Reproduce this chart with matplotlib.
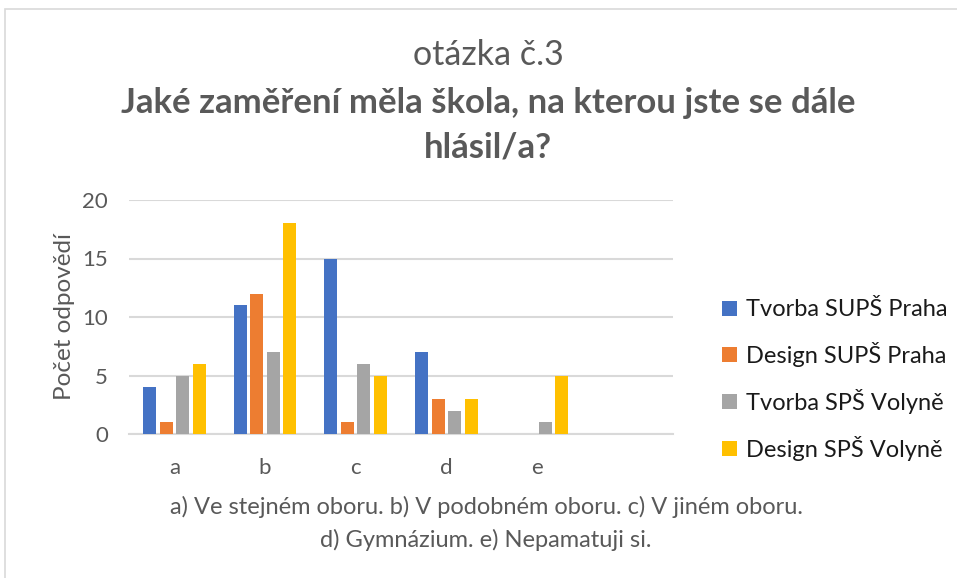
import matplotlib.pyplot as plt
import numpy as np
from matplotlib.patches import Rectangle

plt.rcParams['font.family'] = ['Lato', 'DejaVu Sans']

categories = ['a', 'b', 'c', 'd', 'e', '']
series_names = ['Tvorba SUPŠ Praha', 'Design SUPŠ Praha', 'Tvorba SPŠ Volyně', 'Design SPŠ Volyně']
tvorba_praha = [4, 11, 15, 7, 0, 0]
design_praha = [1, 12, 1, 3, 0, 0]
tvorba_volyne = [5, 7, 6, 2, 1, 0]
design_volyne = [6, 18, 5, 3, 5, 0]
colors = ['#4472C4', '#ED7D31', '#A5A5A5', '#FFC000']

fig = plt.figure(figsize=(9.57, 5.78), dpi=100)
fig.patches.append(Rectangle((5 / 957, -0.1), 1.2, 1 - 9 / 578 + 0.1, transform=fig.transFigure,
                             fill=False, edgecolor='#D9D9D9', linewidth=1.2))
ax = fig.add_axes([129 / 957, 1 - 434 / 578, 544 / 957, 234 / 578])

x = np.arange(len(categories))
w = 0.143
step = 0.183
all_vals = [tvorba_praha, design_praha, tvorba_volyne, design_volyne]
bars = []
for i, vals in enumerate(all_vals):
    b = ax.bar(x + (i - 1.5) * step, vals, width=w, color=colors[i], zorder=3)
    bars.append(b)

ax.set_xlim(-0.5, len(categories) - 0.5)
ax.set_ylim(0, 20)
ax.set_yticks([0, 5, 10, 15, 20])
ax.set_xticks(x)
ax.set_xticklabels(categories)
ax.yaxis.grid(True, color='#D9D9D9', linewidth=1.5, zorder=0)
for s in ['top', 'right', 'left']:
    ax.spines[s].set_visible(False)
ax.spines['bottom'].set_color('#D9D9D9')
ax.spines['bottom'].set_linewidth(1.5)
ax.tick_params(axis='both', length=0, labelsize=16, labelcolor='#595959')
ax.tick_params(axis='y', pad=15)
ax.tick_params(axis='x', pad=17)
ax.set_ylabel('Počet odpovědí', fontsize=17.5, color='#595959', labelpad=5)

fig.text(488 / 957, 1 - 55 / 578, 'otázka č.3', ha='center', va='center', fontsize=24.5, color='#595959')
fig.text(488 / 957, 1 - 103 / 578, 'Jaké zaměření měla škola, na kterou jste se dále', ha='center',
         va='center', fontsize=25, fontweight='bold', color='#595959')
fig.text(488 / 957, 1 - 148 / 578, 'hlásil/a?', ha='center', va='center', fontsize=25,
         fontweight='bold', color='#595959')

fig.text(486 / 957, 1 - 507 / 578, 'a) Ve stejném oboru. b) V podobném oboru. c) V jiném oboru.',
         ha='center', va='center', fontsize=17, color='#595959')
fig.text(486 / 957, 1 - 540 / 578, 'd) Gymnázium. e) Nepamatuji si.',
         ha='center', va='center', fontsize=17, color='#595959')

fig.legend(bars, series_names, loc='upper left', bbox_to_anchor=(713 / 957, 1 - 290 / 578),
           frameon=False, fontsize=17, handlelength=0.6, handleheight=0.6, handletextpad=0.4,
           labelspacing=0.92, borderaxespad=0, labelcolor='#1a1a1a')

fig.savefig('out.png', dpi=100)
